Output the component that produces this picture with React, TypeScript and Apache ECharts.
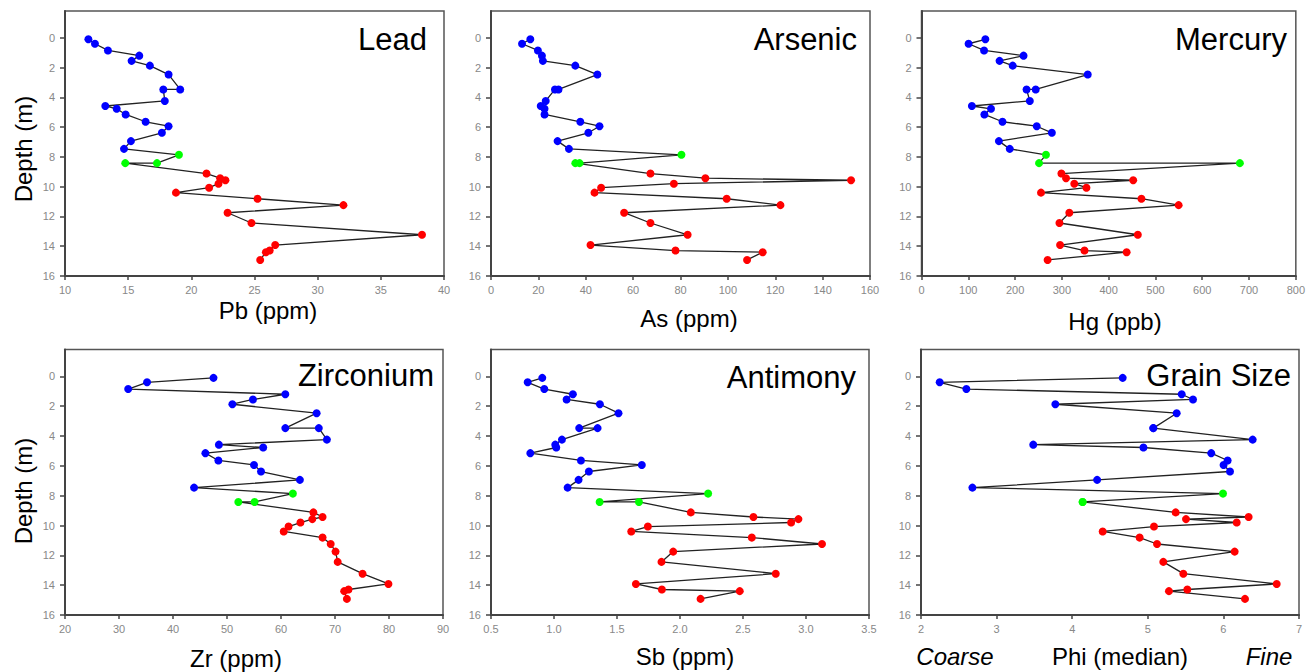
import React, { useEffect, useRef } from "react";
import * as echarts from "echarts";

// Sample depths (m), shared by all six profiles
const depthM = [
  0.1, 0.4, 0.85, 1.2, 1.55, 1.87, 2.47, 3.47, 3.47, 4.24, 4.58, 4.77, 5.15, 5.64, 5.94, 6.38, 6.94, 7.46,
  7.86, 8.42, 8.42,
  9.12, 9.43, 9.57, 9.8, 10.07, 10.4, 10.81, 11.24, 11.75, 12.44, 13.23, 13.92, 14.29, 14.4, 14.92,
];

// Zone of each sample (marker colour)
const sampleZone = [
  "upper", "upper", "upper", "upper", "upper", "upper", "upper", "upper", "upper",
  "upper", "upper", "upper", "upper", "upper", "upper", "upper", "upper", "upper",
  "transition", "transition", "transition",
  "lower", "lower", "lower", "lower", "lower", "lower", "lower", "lower",
  "lower", "lower", "lower", "lower", "lower", "lower", "lower",
];

const pbPpm = [
  11.85, 12.37, 13.4, 15.88, 15.27, 16.72, 18.2, 19.12, 17.78, 17.9, 13.19, 14.09, 14.8, 16.38, 18.2, 17.67, 15.22, 14.67,
  19.02, 17.28, 14.77,
  21.2, 22.28, 22.7, 22.15, 21.41, 18.78, 25.24, 32.04, 22.87, 24.76, 38.26, 26.64, 26.2, 25.9, 25.45,
];
const asPpm = [
  16.6, 13.1, 19.8, 21.5, 21.9, 35.6, 44.9, 28.5, 27.0, 23.1, 21.0, 22.6, 22.6, 37.7, 45.8, 41.1, 28.1, 32.9,
  80.4, 37.4, 35.6,
  67.3, 90.5, 152, 77.2, 46.5, 43.7, 99.5, 122.2, 56.2, 67.3, 83.0, 42.0, 77.9, 114.7, 108.1,
];
const hgPpb = [
  136.5, 100.6, 133.7, 218.1, 166.8, 194.9, 355.3, 244.1, 224.5, 231.5, 107.7, 148.5, 134.4, 173.1, 246.3, 278.6, 165.4, 188.6,
  266, 251.2, 680.4,
  299, 308.9, 452.4, 326.5, 352.5, 255.4, 470, 549.5, 315.9, 294.8, 462.3, 296.2, 348.3, 438.4, 269.5,
];
const zrPpm = [
  47.5, 35.2, 31.7, 60.8, 54.8, 51.0, 66.6, 60.8, 67.0, 68.5, 48.5, 56.7, 46.0, 48.4, 55.0, 56.3, 63.5, 43.9,
  62.2, 55.1, 52.1,
  66.0, 67.7, 65.8, 63.6, 61.4, 60.5, 67.7, 69.2, 70.1, 70.5, 75.1, 79.9, 72.5, 71.7, 72.2,
];
const sbPpm = [
  0.907, 0.791, 0.923, 1.15, 1.1, 1.364, 1.512, 1.2, 1.346, 1.063, 1.01, 1.018, 0.812, 1.214, 1.697, 1.277, 1.195, 1.108,
  2.223, 1.362, 1.674,
  2.086, 2.583, 2.94, 2.882, 1.745, 1.613, 2.57, 3.127, 1.946, 1.853, 2.76, 1.65, 1.856, 2.474, 2.163,
];
const phiMedian = [
  4.668, 2.247, 2.6, 5.448, 5.598, 3.777, 5.382, 5.073, 5.073, 6.387, 3.485, 4.942, 5.839, 6.056, 6.002, 6.087, 4.33, 2.68,
  5.995, 4.138, 4.138,
  5.369, 6.334, 5.505, 6.176, 5.082, 4.403, 4.892, 5.122, 6.149, 5.205, 5.47, 6.705, 5.523, 5.28, 6.286,
];

const depthTicks = [0, 2, 4, 6, 8, 10, 12, 14, 16];

const panelTitles = ["Lead", "Arsenic", "Mercury", "Zirconium", "Antimony", "Grain Size"];
const axisNames = ["Pb (ppm)", "As (ppm)", "Hg (ppb)", "Zr (ppm)", "Sb (ppm)", "Phi (median)"];
const panelValues = [pbPpm, asPpm, hgPpb, zrPpm, sbPpm, phiMedian];
const xMins = [10, 0, 0, 20, 0.5, 2];
const xMaxs = [40, 160, 800, 90, 3.5, 7];
const xIntervals = [5, 20, 100, 10, 0.5, 1];
const xDecimals = [0, 0, 0, 0, 1, 0];

const zoneColor: Record<string, string> = {
  upper: "#0000ff",
  transition: "#00ff00",
  lower: "#ff0000",
};

// Layout (page pixels)
const gridBoxes = [
  { left: 65, top: 11, width: 379, height: 265 },
  { left: 491, top: 11, width: 379, height: 265 },
  { left: 921.5, top: 11, width: 379, height: 265 },
  { left: 65, top: 349.5, width: 378, height: 265.5 },
  { left: 491, top: 349.5, width: 378, height: 265.5 },
  { left: 921, top: 349.5, width: 378, height: 265.5 },
];
const titlePos = [
  { x: 427, y: 39 },
  { x: 857, y: 39 },
  { x: 1287, y: 39 },
  { x: 434, y: 375 },
  { x: 856, y: 377 },
  { x: 1291, y: 375 },
];
const namePos = [
  { x: 268, y: 310 },
  { x: 689, y: 318 },
  { x: 1115, y: 321 },
  { x: 236, y: 658 },
  { x: 685, y: 656 },
  { x: 1120, y: 656 },
];

const FONT = "'Liberation Sans', Arial, Helvetica, sans-serif";

export default function App() {
  const ref = useRef<HTMLDivElement>(null);

  useEffect(() => {
    document.body.style.margin = "0";
    if (!ref.current) return;
    const chart = echarts.init(ref.current, null, { renderer: "svg" });

    const grid = gridBoxes.map((g) => ({
      ...g,
      show: true,
      borderColor: "#555",
      borderWidth: 1.5,
      backgroundColor: "#fff",
      containLabel: false,
    }));

    const xAxis = panelValues.map((_, i) => ({
      type: "value",
      gridIndex: i,
      position: "bottom",
      min: xMins[i],
      max: xMaxs[i],
      interval: xIntervals[i],
      axisLine: { show: true, onZero: false, lineStyle: { color: "#444", width: 2 } },
      axisTick: { show: true, length: 4, lineStyle: { color: "#444", width: 1.5 } },
      axisLabel: {
        color: "#888888",
        fontSize: 11,
        fontFamily: FONT,
        margin: 8,
        formatter: (v: number) => v.toFixed(xDecimals[i]),
      },
      splitLine: { show: false },
    }));

    const yAxis = panelValues.map((_, i) => ({
      type: "value",
      gridIndex: i,
      position: "left",
      inverse: true,
      min: -1.8,
      max: 16,
      axisLine: { show: true, onZero: false, lineStyle: { color: "#444", width: 2 } },
      axisTick: {
        show: true,
        length: 5,
        customValues: depthTicks,
        lineStyle: { color: "#444", width: 1.5 },
      },
      axisLabel: {
        color: "#888888",
        fontSize: 11,
        fontFamily: FONT,
        margin: 10,
        customValues: depthTicks,
      },
      splitLine: { show: false },
    }));

    const series = panelValues.map((vals, i) => ({
      type: "line",
      xAxisIndex: i,
      yAxisIndex: i,
      symbol: "circle",
      symbolSize: 8,
      showSymbol: true,
      lineStyle: { color: "#222", width: 1.3 },
      data: vals.map((v, k) => ({
        value: [v, depthM[k]],
        itemStyle: { color: zoneColor[sampleZone[k]], borderWidth: 0 },
      })),
      z: 3,
    }));

    const graphic: any[] = [];
    panelTitles.forEach((t, i) => {
      graphic.push({
        type: "text",
        x: titlePos[i].x,
        y: titlePos[i].y,
        z: 10,
        style: {
          text: t,
          fill: "#000",
          font: `31px ${FONT}`,
          textAlign: "right",
          textVerticalAlign: "middle",
        },
      });
    });
    axisNames.forEach((t, i) => {
      graphic.push({
        type: "text",
        x: namePos[i].x,
        y: namePos[i].y,
        style: {
          text: t,
          fill: "#000",
          font: `24px ${FONT}`,
          textAlign: "center",
          textVerticalAlign: "middle",
        },
      });
    });
    graphic.push({
      type: "text",
      x: 955,
      y: 656,
      style: { text: "Coarse", fill: "#000", font: `italic 24px ${FONT}`, textAlign: "center", textVerticalAlign: "middle" },
    });
    graphic.push({
      type: "text",
      x: 1269,
      y: 656,
      style: { text: "Fine", fill: "#000", font: `italic 24px ${FONT}`, textAlign: "center", textVerticalAlign: "middle" },
    });
    [149, 491].forEach((cy) => {
      graphic.push({
        type: "text",
        x: 23,
        y: cy,
        rotation: Math.PI / 2,
        style: {
          text: "Depth (m)",
          fill: "#000",
          font: `24px ${FONT}`,
          textAlign: "center",
          textVerticalAlign: "middle",
        },
      });
    });

    chart.setOption({
      animation: false,
      backgroundColor: "#fff",
      grid,
      xAxis,
      yAxis,
      series,
      graphic,
    } as any);

    return () => chart.dispose();
  }, []);

  return <div ref={ref} style={{ width: 1308, height: 672, overflow: "hidden" }} />;
}
